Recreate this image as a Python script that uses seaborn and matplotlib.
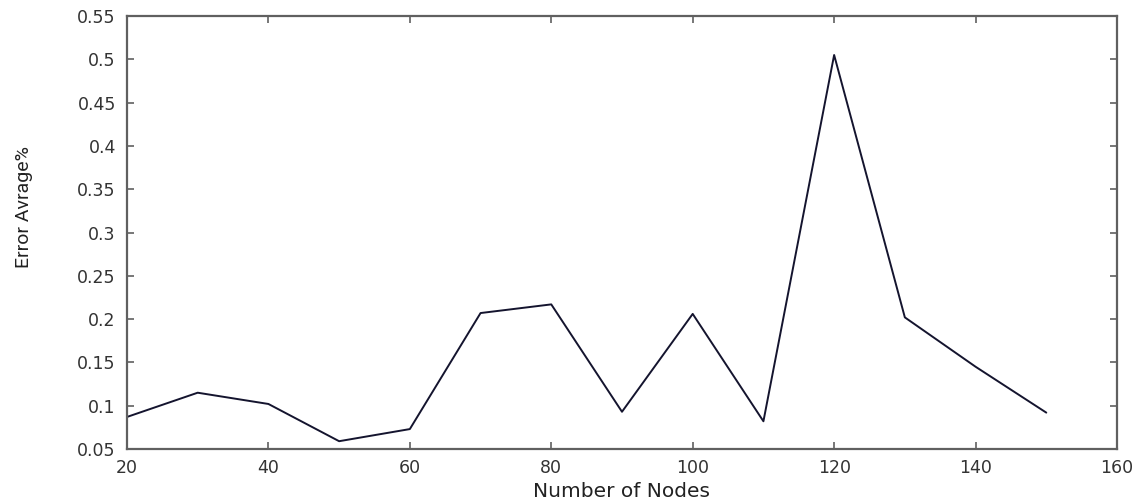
import pandas as pd
import numpy as np
import matplotlib
matplotlib.use('Agg')
import matplotlib.pyplot as plt
import seaborn as sns
from matplotlib import font_manager

# values
nodes = [20, 30, 40, 50, 60, 70, 80, 90, 100, 110, 120, 130, 140, 150]
error_avg = [0.087, 0.115, 0.102, 0.059, 0.073, 0.207, 0.217, 0.093, 0.206,
             0.082, 0.505, 0.202, 0.145, 0.092]
x_ticks = [20, 40, 60, 80, 100, 120, 140, 160]
y_ticks = [0.05, 0.1, 0.15, 0.2, 0.25, 0.3, 0.35, 0.4, 0.45, 0.5, 0.55]
y_tick_labels = ['0.05', '0.1', '0.15', '0.2', '0.25', '0.3', '0.35', '0.4', '0.45', '0.5', '0.55']

sns.set_style('ticks')
plt.rcParams['font.family'] = ['DejaVu Sans']

# narrow font for the y label if there is one
names = {f.name for f in font_manager.fontManager.ttflist}
narrow = 'Liberation Sans Narrow' if 'Liberation Sans Narrow' in names else 'Roboto'

df = pd.DataFrame({'Nodes': nodes, 'Error': error_avg})

fig = plt.figure(figsize=(11.48, 5.01), dpi=100)
ax = fig.add_axes([0.1106, 0.1038, 0.8624, 0.8642])
sns.lineplot(data=df, x='Nodes', y='Error', ax=ax, color='#14142e', linewidth=1.4)

ax.set_xlim(20, 160)
ax.set_ylim(0.05, 0.55)
ax.set_xticks(x_ticks)
ax.set_yticks(y_ticks)
ax.set_yticklabels(y_tick_labels)

# matlab style box with inward ticks
for side in ['top', 'right', 'bottom', 'left']:
    ax.spines[side].set_visible(True)
    ax.spines[side].set_color('#606060')
    ax.spines[side].set_linewidth(1.6)
ax.tick_params(direction='in', length=5, width=1.2, color='#606060',
               top=True, right=True, labelsize=12.5, labelcolor='#333333')
ax.tick_params(axis='y', pad=8)
ax.tick_params(axis='x', pad=7)

ax.set_xlabel('Number of Nodes', fontsize=14.5, color='#222222', va='center')
ax.xaxis.set_label_coords(0.5, -0.099)
ax.set_ylabel('Error Avrage%', fontsize=14, color='#222222', family=narrow,
              va='center')
ax.yaxis.set_label_coords(-0.104, 0.56)

plt.savefig('out.png', dpi=100)
